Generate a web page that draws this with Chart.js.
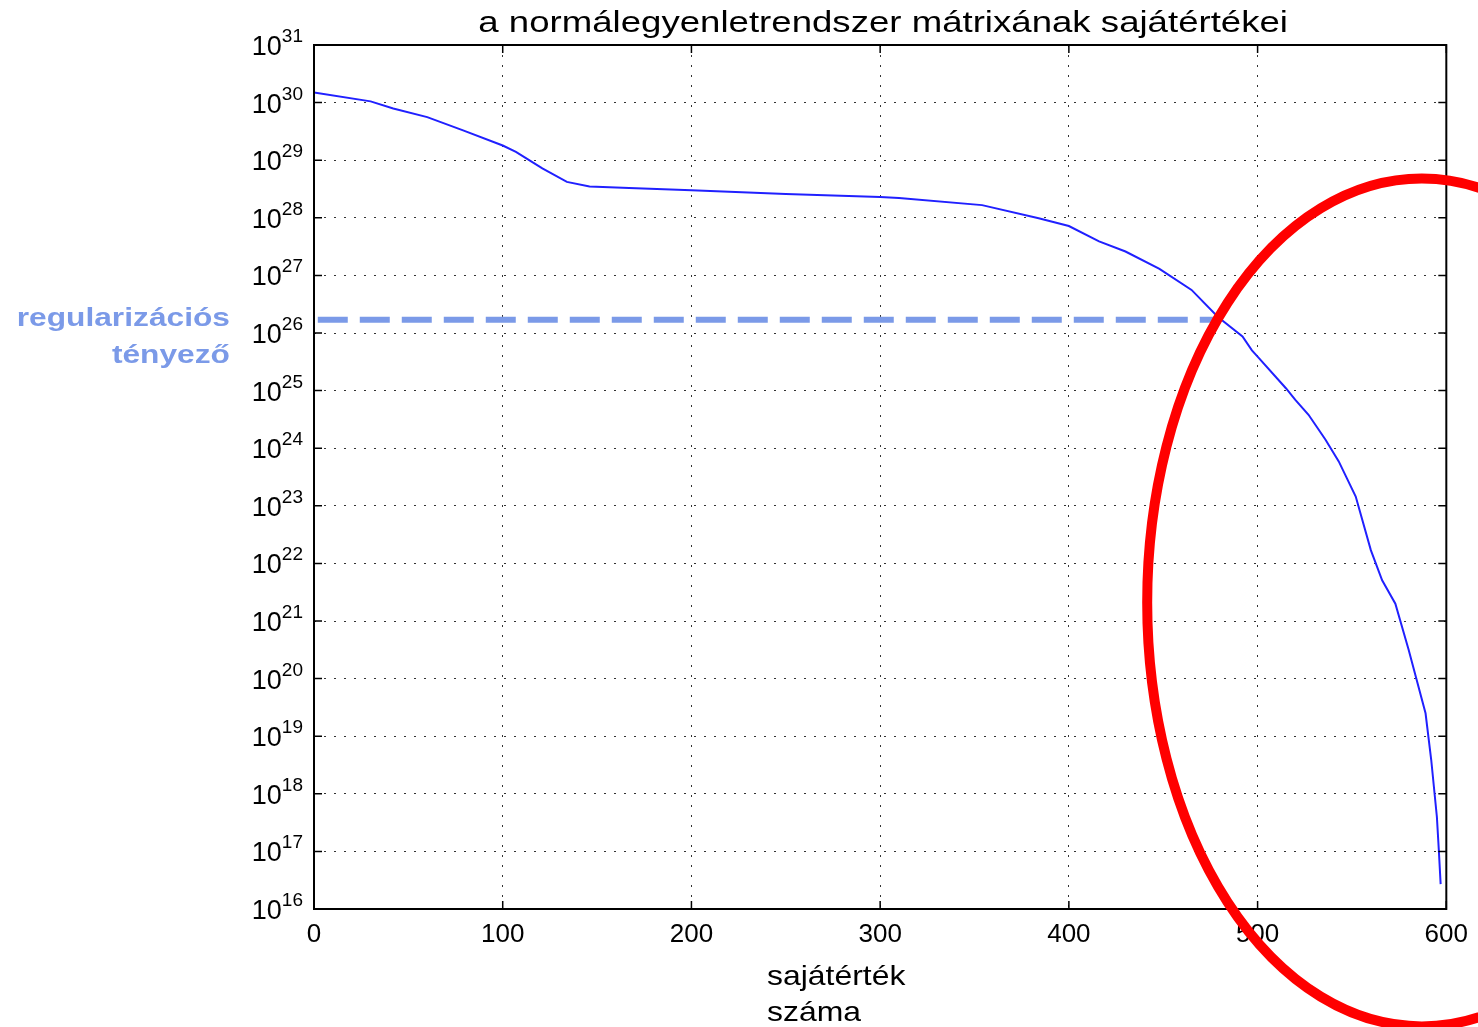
<!DOCTYPE html>
<html lang="hu">
<head>
<meta charset="UTF-8">
<title>Sajátértékek</title>
<script src="https://cdn.jsdelivr.net/npm/chart.js"></script>
<style>
    html, body { margin: 0; padding: 0; background: #fff; }
    #chart-container { width: 1478px; height: 1027px; position: relative; }
</style>
</head>
<body>
<div id="chart-container"><canvas id="chart"></canvas></div>
<script>
    // sajátértékek
    var eigIndex = [0, 30, 42, 60, 79, 100, 107, 121, 134, 146, 167, 200, 250, 300, 310, 354, 384, 400, 416, 430,
        448, 465, 479, 492, 497, 500, 515, 520, 527, 536, 543, 552, 560, 566, 573, 580, 589, 592, 595, 596, 597];
    var eigValues = [1.5e30, 1.05e30, 7.9e29, 5.6e29, 3.3e29, 1.8e29, 1.4e29, 7.2e28, 4.2e28, 3.5e28,
        3.3e28, 3.0e28, 2.6e28, 2.3e28, 2.2e28, 1.66e28, 9.8e27, 7.2e27, 3.9e27, 2.6e27,
        1.3e27, 5.6e26, 1.9e26, 8.7e25, 5.0e25, 3.9e25, 1.1e25, 6.9e24, 3.8e24, 1.4e24, 5.9e23, 1.45e23,
        1.7e22, 5.1e21, 2.0e21, 3.2e20, 2.5e19, 3.9e18, 4.0e17, 1.1e17, 2.7e16];

    // regularizációs tényező
    var regIndex = [2, 480];
    var regValue = 1.7e26;

    // tengelyek
    var xTicks = [0, 100, 200, 300, 400, 500, 600];
    var yExponents = [16, 17, 18, 19, 20, 21, 22, 23, 24, 25, 26, 27, 28, 29, 30, 31];

    // piros ellipszis (adat-egységekben)
    var ringCenterIndex = 587;
    var ringCenterValue = 2.1e21;
    var ringRadiusIndex = 145.5;
    var ringRadiusDecades = 7.36;

    var FONT = '"Liberation Sans", Arial, sans-serif';
    var REG_COLOR = '#7b9ae8';

    // szöveg vízszintesen nyújtva (a referencia betűi szélesebbek)
    function wideText(ctx, text, x, y, font, align, stretch) {
        ctx.save();
        ctx.font = font;
        ctx.textAlign = 'left';
        ctx.textBaseline = 'alphabetic';
        var w = ctx.measureText(text).width * stretch;
        var left = align === 'center' ? x - w / 2 : align === 'right' ? x - w : x;
        ctx.translate(left, y);
        ctx.scale(stretch, 1);
        ctx.fillText(text, 0, 0);
        ctx.restore();
    }

    var overlay = {
        id: 'overlay',
        afterDraw: function (chart) {
            var ctx = chart.ctx;
            var a = chart.chartArea;
            var xs = chart.scales.x;
            var ys = chart.scales.y;
            ctx.save();

            // keret
            ctx.strokeStyle = '#000';
            ctx.lineWidth = 2;
            ctx.setLineDash([]);
            ctx.strokeRect(a.left, a.top, a.right - a.left, a.bottom - a.top);

            // befelé mutató osztásjelek
            ctx.lineWidth = 1.5;
            ctx.beginPath();
            xTicks.forEach(function (v) {
                var px = xs.getPixelForValue(v);
                ctx.moveTo(px, a.bottom); ctx.lineTo(px, a.bottom - 8);
                ctx.moveTo(px, a.top); ctx.lineTo(px, a.top + 8);
            });
            yExponents.forEach(function (e) {
                var py = ys.getPixelForValue(Math.pow(10, e));
                ctx.moveTo(a.left, py); ctx.lineTo(a.left + 8, py);
                ctx.moveTo(a.right, py); ctx.lineTo(a.right - 8, py);
            });
            ctx.stroke();

            // y feliratok: 10^n
            ctx.fillStyle = '#000';
            yExponents.forEach(function (e) {
                var py = ys.getPixelForValue(Math.pow(10, e));
                var right = a.left - 11;
                ctx.font = '19px ' + FONT;
                var expW = ctx.measureText(String(e)).width;
                ctx.textAlign = 'left';
                ctx.textBaseline = 'alphabetic';
                ctx.fillText(String(e), right - expW, py - 3);
                ctx.font = '27px ' + FONT;
                ctx.textAlign = 'right';
                ctx.fillText('10', right - expW, py + 10);
            });

            // cím
            wideText(ctx, 'a normálegyenletrendszer mátrixának sajátértékei', (a.left + a.right) / 2 + 3, 32,
                '30px ' + FONT, 'center', 1.22);

            // x tengely címe
            wideText(ctx, 'sajátérték', 767, 985, '28px ' + FONT, 'left', 1.14);
            wideText(ctx, 'száma', 767, 1021, '28px ' + FONT, 'left', 1.14);

            // regularizációs tényező felirat
            ctx.fillStyle = REG_COLOR;
            wideText(ctx, 'regularizációs', 230, 326, 'bold 26px ' + FONT, 'right', 1.22);
            wideText(ctx, 'tényező', 230, 363, 'bold 26px ' + FONT, 'right', 1.22);

            // piros ellipszis
            var cx = xs.getPixelForValue(ringCenterIndex);
            var cy = ys.getPixelForValue(ringCenterValue);
            var rx = xs.getPixelForValue(ringCenterIndex + ringRadiusIndex) - cx;
            var ry = ys.getPixelForValue(ringCenterValue / Math.pow(10, ringRadiusDecades)) - cy;
            ctx.beginPath();
            ctx.ellipse(cx, cy, rx, ry, 0, 0, Math.PI * 2);
            ctx.strokeStyle = '#ff0000';
            ctx.lineWidth = 10;
            ctx.stroke();

            ctx.restore();
        }
    };

    var ctx = document.getElementById('chart').getContext('2d');
    var chart = new Chart(ctx, {
        type: 'line',
        data: {
            datasets: [{
                label: 'regularizációs tényező',
                data: regIndex.map(function (i) { return { x: i, y: regValue }; }),
                borderColor: REG_COLOR,
                borderWidth: 6,
                borderDash: [30, 12],
                borderCapStyle: 'butt',
                pointRadius: 0,
                fill: false
            }, {
                label: 'sajátértékek',
                data: eigIndex.map(function (i, k) { return { x: i, y: eigValues[k] }; }),
                borderColor: '#2020ff',
                borderWidth: 2,
                pointRadius: 0,
                tension: 0,
                fill: false
            }]
        },
        options: {
            responsive: true,
            maintainAspectRatio: false,
            animation: false,
            layout: { padding: { left: 314, right: 30, top: 45, bottom: 0 } },
            plugins: {
                legend: { display: false },
                tooltip: { enabled: false }
            },
            scales: {
                x: {
                    type: 'linear',
                    min: 0,
                    max: 600,
                    afterBuildTicks: function (scale) {
                        scale.ticks = xTicks.map(function (v) { return { value: v }; });
                    },
                    afterFit: function (scale) { scale.height = 118; },
                    grid: { color: 'rgba(0,0,0,0.8)', lineWidth: 1, drawTicks: false },
                    border: { display: false, dash: [2, 8] },
                    ticks: {
                        color: '#000',
                        padding: 10,
                        maxRotation: 0,
                        font: { family: FONT, size: 26 }
                    }
                },
                y: {
                    type: 'logarithmic',
                    min: 1e16,
                    max: 1e31,
                    afterBuildTicks: function (scale) {
                        scale.ticks = yExponents.map(function (e) { return { value: Math.pow(10, e) }; });
                    },
                    afterFit: function (scale) { scale.width = 0; },
                    grid: { color: 'rgba(0,0,0,0.8)', lineWidth: 1, drawTicks: false },
                    border: { display: false, dash: [2, 8] },
                    ticks: { display: false }
                }
            }
        },
        plugins: [overlay]
    });
</script>
</body>
</html>
